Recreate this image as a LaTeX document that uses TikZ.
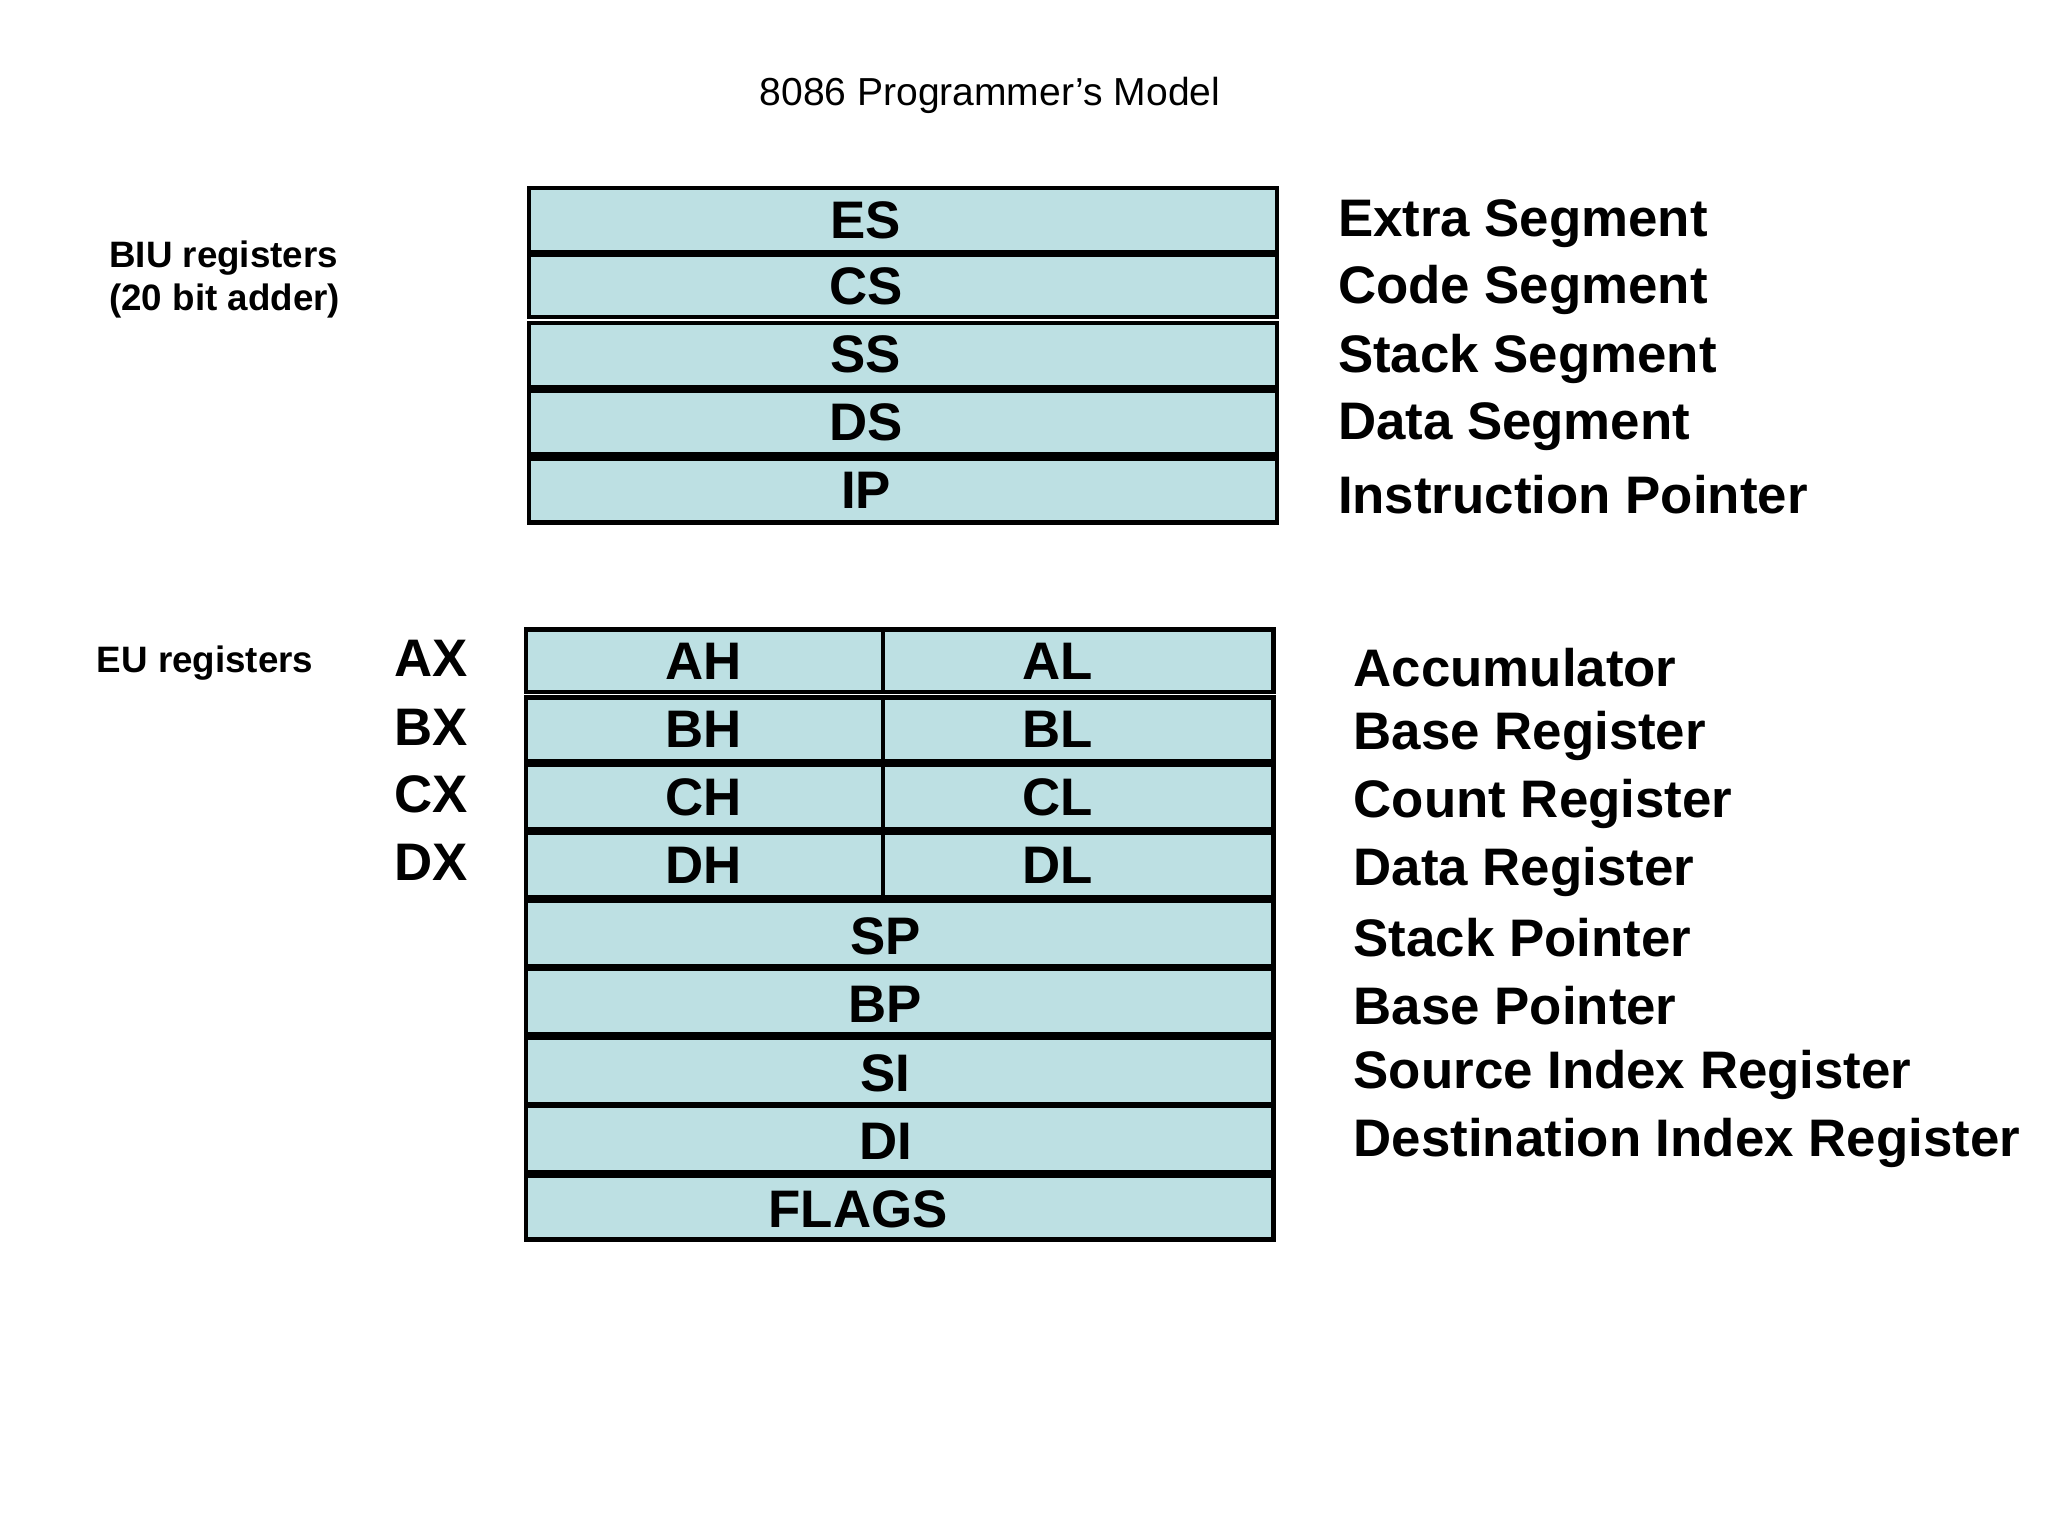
\documentclass[tikz,border=0pt]{standalone}
\usepackage{fontspec}
\setmainfont{Liberation Sans}
\definecolor{reg}{HTML}{BDE0E3}
\begin{document}
\begin{tikzpicture}[x=0.01cm,y=-0.01cm,
  regbox/.style={draw=black,line width=0.9pt,fill=reg},
  reglbl/.style={font=\bfseries\fontsize{11.5}{13}\selectfont},
  desc/.style={anchor=west,font=\bfseries\fontsize{11.5}{13}\selectfont},
  side/.style={font=\bfseries\fontsize{8}{9.5}\selectfont,align=left}]
\useasboundingbox (0,0) rectangle (1568,1176);
\node (title) at (758,73) {\fontsize{8.5}{10}\selectfont 8086 Programmer’s Model};
\node[side] (biu) at (172,214) {BIU registers\\(20 bit adder)};
\node[side] (eu) at (157,508) {EU registers};
% BIU
\foreach \n/\t/\b/\d [count=\i] in {ES/144/193/Extra Segment,CS/195/243/Code Segment,SS/247/296/Stack Segment,DS/299/348/Data Segment,IP/351/400/Instruction Pointer}{
  \draw[regbox] (405,\t) rectangle (978,\b);
  \node[reglbl] (b\i) at (663,{(\t+\b)/2}) {\n};
  \node[desc] (bd\i) at (1012,{(\t+\b)/2+3}) {\d};
}
% EU split
\foreach \h/\l/\x/\t/\b/\d [count=\i] in {AH/AL/AX/482/530/Accumulator,BH/BL/BX/534/583/Base Register,CH/CL/CX/586/635/Count Register,DH/DL/DX/638/687/Data Register}{
  \draw[regbox] (403,\t) rectangle (975,\b);
  \draw[line width=0.9pt] (676,\t) -- (676,\b);
  \node[reglbl] (h\i) at (539,{(\t+\b)/2}) {\h};
  \node[reglbl] (l\i) at (810,{(\t+\b)/2}) {\l};
  \node[reglbl] (x\i) at (330,{(\t+\b)/2-2}) {\x};
  \node[desc] (ed\i) at (1024,{(\t+\b)/2+5}) {\d};
}
\foreach \n/\t/\b/\d [count=\i] in {SP/690/740/Stack Pointer,BP/742/792/Base Pointer,SI/795/845/Source Index Register,DI/847/897/Destination Index Register}{
  \draw[regbox] (403,\t) rectangle (975,\b);
  \node[reglbl] (p\i) at (678,{(\t+\b)/2+2}) {\n};
  \node[desc] (pd\i) at (1024,{(\t+\b)/2+3}) {\d};
}
\draw[regbox] (403,900) rectangle (975,949);
\node[reglbl] (flags) at (657,926) {FLAGS};
\end{tikzpicture}
\end{document}
